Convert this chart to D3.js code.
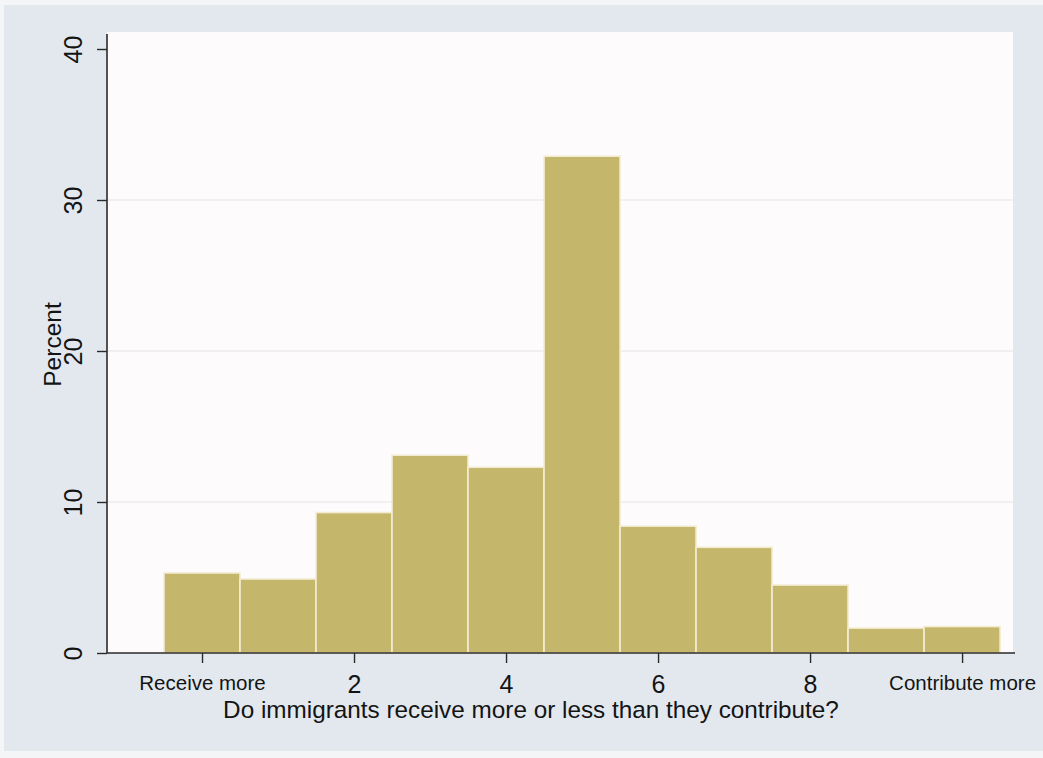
<!DOCTYPE html>
<html lang="en">
<head>
<meta charset="UTF-8">
<title>Do immigrants receive more or less than they contribute?</title>
<script src="https://d3js.org/d3.v7.min.js"></script>
<style>
html,body{margin:0;padding:0;background:#f4f5f7}
svg{display:block}
text{font-family:"Liberation Sans",Arial,sans-serif;fill:#141414}
.grid line{stroke:#e4e3e8;stroke-width:1.2}
.bar{fill:#c4b66a;stroke:#f3ecd2;stroke-width:1.6}
</style>
</head>
<body>
<svg id="chart" width="1043" height="758"></svg>
<script>
// response scale 0..10, percent of respondents
var values = [0, 1, 2, 3, 4, 5, 6, 7, 8, 9, 10];
var percents = [5.3, 4.9, 9.3, 13.1, 12.3, 32.9, 8.4, 7.0, 4.5, 1.65, 1.75];
var yTicks = [0, 10, 20, 30, 40];
var xTicks = [0, 2, 4, 6, 8, 10];
var xTickLabels = { 0: 'Receive more', 10: 'Contribute more' };

var svg = d3.select('#chart');

// ── outer background ──
svg.append('rect').attr('x', 4).attr('y', 5).attr('width', 1039).attr('height', 746)
  .attr('fill', '#e2e8ee');

var plot = { left: 107, right: 1013, top: 32, bottom: 653 };

var x = d3.scaleLinear().domain([-1.25, 10.67]).range([plot.left, plot.right]);
var y = d3.scaleLinear().domain([0, 40]).range([plot.bottom, plot.bottom - 40 * 15.1]);

svg.append('rect')
  .attr('x', plot.left).attr('y', plot.top)
  .attr('width', plot.right - plot.left).attr('height', plot.bottom - plot.top)
  .attr('fill', '#fdfbfc');

// gridlines
svg.append('g').attr('class', 'grid')
  .selectAll('line').data(yTicks.filter(function(d) { return d > 0 && d < 40; })).join('line')
  .attr('x1', plot.left).attr('x2', plot.right)
  .attr('y1', function(d) { return y(d); }).attr('y2', function(d) { return y(d); });

// bars
svg.append('g').selectAll('rect').data(values).join('rect')
  .attr('class', 'bar')
  .attr('x', function(d) { return x(d - 0.5); })
  .attr('width', function(d) { return x(d + 0.5) - x(d - 0.5); })
  .attr('y', function(d, i) { return y(percents[i]); })
  .attr('height', function(d, i) { return y(0) - y(percents[i]); });

// ── y axis ──
var yAxis = svg.append('g').attr('transform', 'translate(' + plot.left + ',0)')
  .call(d3.axisLeft(y).tickValues(yTicks).tickSize(10).tickPadding(0).tickFormat(d3.format('d')));
yAxis.select('.domain').attr('d', 'M0,' + (plot.top + 2) + 'V' + plot.bottom)
  .attr('stroke', '#2a2a2a').attr('stroke-width', 1.6);
yAxis.selectAll('.tick line').attr('stroke', '#2a2a2a').attr('stroke-width', 1.4);
yAxis.selectAll('.tick text')
  .attr('x', null).attr('dy', null)
  .attr('transform', 'translate(-25,0) rotate(-90)')
  .attr('text-anchor', 'middle')
  .style('font-size', '25px');

svg.append('text')
  .attr('transform', 'translate(61,' + ((plot.top + plot.bottom) / 2 + 2) + ') rotate(-90)')
  .attr('text-anchor', 'middle').style('font-size', '24.5px')
  .text('Percent');

// ── x axis ──
var xAxis = svg.append('g').attr('transform', 'translate(0,' + plot.bottom + ')')
  .call(d3.axisBottom(x).tickValues(xTicks).tickSize(10).tickFormat(function(d) {
    return xTickLabels[d] || d;
  }));
xAxis.select('.domain').attr('d', 'M' + plot.left + ',0H' + (plot.right + 2))
  .attr('stroke', '#2a2a2a').attr('stroke-width', 1.6);
xAxis.selectAll('.tick text')
  .attr('y', function(d) { return xTickLabels[d] ? 37 : 40; })
  .attr('dy', null)
  .style('font-size', function(d) { return xTickLabels[d] ? '20.5px' : '25px'; });
xAxis.selectAll('.tick line').attr('stroke', '#2a2a2a').attr('stroke-width', 1.4);

svg.append('text')
  .attr('x', 531).attr('y', 718)
  .attr('text-anchor', 'middle').style('font-size', '24.3px')
  .text('Do immigrants receive more or less than they contribute?');
</script>
</body>
</html>
